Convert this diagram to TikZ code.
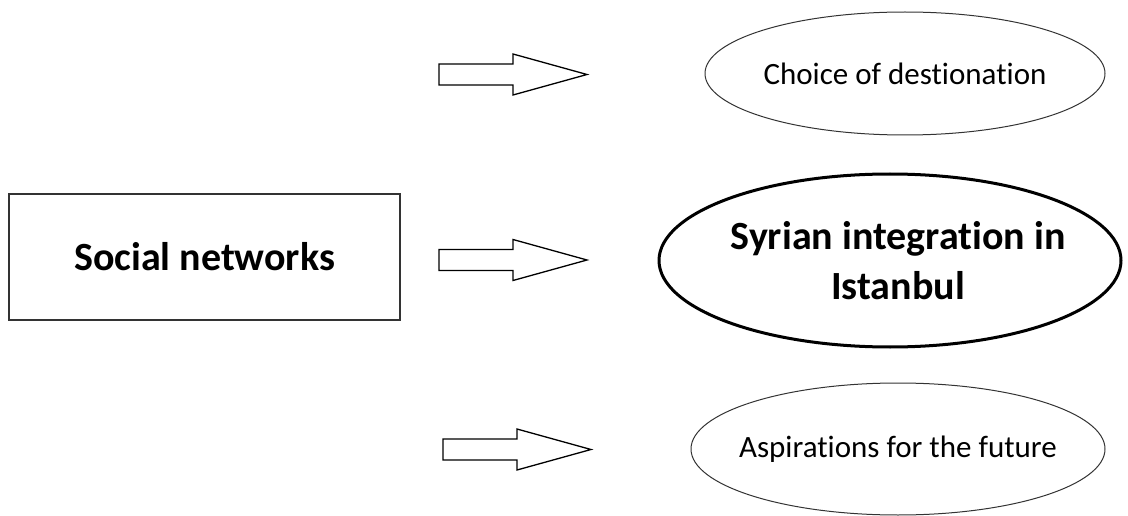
\documentclass[tikz,border=0pt]{standalone}
\usepackage{fontspec}
\setmainfont{Carlito}[Ligatures={NoCommon,NoContextual,NoDiscretionary}]
\usetikzlibrary{shapes.geometric}

% t + i senza legatura
\newcommand{\tI}{t\kern0pt i}

\tikzset{
  small/.style={font=\fontsize{31}{38}\selectfont},
  big/.style={font=\fontsize{40}{50}\selectfont\bfseries},
  oval/.style={ellipse, draw=black!80, line width=1pt, inner xsep=-50pt, inner ysep=0pt},
  blockarrow/.style={draw, line width=1.3pt, line join=miter},
}

\begin{document}
\begin{tikzpicture}[x=1pt, y=-1pt]
    \useasboundingbox (0,0) rectangle (1128,516);

    % Riquadro di partenza
    \node[draw=black!80, line width=1.3pt, minimum width=391pt, minimum height=126pt, big] (social) at (204.5,257) {Social networks};

    % Ovali a destra
    \node[oval, small, minimum width=400pt, minimum height=123pt] (choice) at (905,73.5) {Choice of des\tI ona\tI on};
    \node[oval, big, draw=black, line width=3pt, minimum width=462pt, minimum height=173pt, align=center] (syrian) at (890,260.5) {\hspace*{16pt}Syrian integra\tI on in\\\hspace*{16pt}Istanbul};
    \node[oval, small, minimum width=414pt, minimum height=132pt] (aspir) at (898,449) {Aspira\tI ons for the future};

    % Frecce a blocco (coda, base punta, punta)
    \foreach \ax/\ay/\bx in {439/74.5/513, 439/260/513, 443/449.5/517} {
        \draw[blockarrow] (\ax,\ay-10.5) -- (\bx,\ay-10.5) -- (\bx,\ay-20.5)
            -- (\bx+74,\ay) -- (\bx,\ay+20.5) -- (\bx,\ay+10.5) -- (\ax,\ay+10.5) -- cycle;
    }
\end{tikzpicture}
\end{document}
